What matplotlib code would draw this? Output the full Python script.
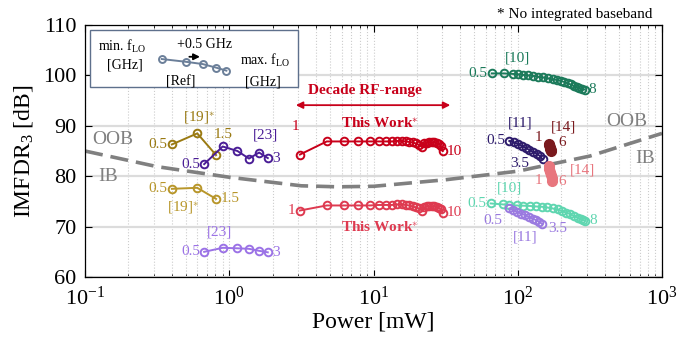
import matplotlib
matplotlib.use('Agg')
import matplotlib.pyplot as plt
from matplotlib.patches import Rectangle
from matplotlib.ticker import LogLocator, NullFormatter

plt.rcParams['font.family'] = 'serif'
plt.rcParams['font.serif'] = ['Liberation Serif', 'DejaVu Serif']
plt.rcParams['mathtext.fontset'] = 'custom'
plt.rcParams['mathtext.rm'] = 'Liberation Serif'
plt.rcParams['mathtext.it'] = 'Liberation Serif:italic'
plt.rcParams['mathtext.bf'] = 'Liberation Serif:bold'

#### data (power in mW, IMFDR3 in dB)
ref19_p = [0.40, 0.60, 0.81]
ref19_oob = [86.3, 88.5, 84.2]
ref19_ib = [77.5, 77.7, 75.5]

ref23_p = [0.67, 0.90, 1.14, 1.37, 1.61, 1.85]
ref23_oob = [82.4, 85.9, 85.0, 83.5, 84.7, 83.6]
ref23_ib = [65.0, 65.8, 65.7, 65.6, 65.2, 64.9]

tw_p = [3.09, 4.74, 6.25, 7.77, 9.46, 10.9, 12.2, 13.5, 14.6, 15.7, 16.7, 17.7,
        18.7, 19.6, 20.7, 21.6, 22.5, 23.4, 24.3, 25.3, 26.3, 27.4, 28.5, 29.2, 30.2]
tw_oob = [84.3, 86.9, 86.9, 86.9, 86.9, 86.9, 86.9, 86.9, 87.0, 87.0, 86.9, 86.8,
          86.7, 86.5, 86.2, 85.8, 86.5, 86.6, 86.7, 86.7, 86.7, 86.6, 86.4, 86.0, 85.0]
tw_ib = [73.2, 74.2, 74.2, 74.2, 74.2, 74.3, 74.3, 74.3, 74.4, 74.4, 74.3, 74.2,
         74.0, 73.8, 73.6, 73.2, 73.8, 74.0, 74.0, 74.0, 74.0, 73.9, 73.7, 73.4, 72.8]

ref10_p_oob = [66.0, 80.3, 93.1, 100.9, 109.3, 118.4, 128.2, 138.9, 150.4, 162.9, 174.7,
               186.2, 198.5, 210.2, 222.0, 232.9, 244.3, 256.3, 267.1, 278.9, 291.2]
ref10_oob = [100.4, 100.4, 100.3, 100.2, 100.1, 100.0, 99.9, 99.7, 99.6, 99.4, 99.2,
             99.1, 98.9, 98.7, 98.4, 98.2, 97.9, 97.7, 97.5, 97.3, 97.2]
ref10_p_ib = [64.9, 79.4, 87.4, 98.3, 109.3, 121.6, 133.8, 146.6, 160.3, 174.7, 189.2,
              201.7, 216.1, 230.2, 245.5, 260.4, 274.5, 284.7, 294.0]
ref10_ib = [74.6, 74.4, 74.3, 74.2, 74.15, 74.1, 74.0, 73.95, 73.8, 73.6, 73.4,
            73.1, 72.8, 72.5, 72.1, 71.8, 71.5, 71.3, 71.2]

ref11_p_oob = [87.4, 94.6, 101.0, 107.0, 113.5, 120.3, 127.5, 135.2, 142.5, 148.6]
ref11_oob = [87.0, 86.7, 86.4, 86.0, 85.65, 85.2, 84.85, 84.5, 84.0, 83.35]
ref11_p_ib = [87.4, 93.1, 99.3, 105.3, 112.3, 119.7, 126.9, 133.8, 140.4, 148.0]
ref11_ib = [73.6, 73.3, 72.9, 72.6, 72.3, 71.9, 71.6, 71.3, 71.0, 70.5]

ref14_p_oob = [164, 165.5, 167, 168.5, 170, 171]
ref14_oob = [86.4, 86.1, 85.8, 85.5, 85.2, 85.0]
ref14_p_ib = [164, 166, 168, 170, 172, 174]
ref14_ib = [82.0, 81.4, 80.8, 80.2, 79.6, 79.0]

bound_p = [0.1, 0.316, 1, 3.16, 5.6, 10, 31.6, 100, 316, 1000]
bound_v = [85.0, 81.9, 79.8, 78.1, 77.9, 78.0, 79.3, 81.0, 84.0, 88.5]

# colors
c19a, c19b = '#9A7A12', '#B8962A'
c23a, c23b = '#4A1D96', '#9B72E6'
ctwa, ctwb = '#C8001A', '#DE3A50'
c10a, c10b = '#1B7A5A', '#5FD6B0'
c11a, c11b = '#2D1B6B', '#9A7AE0'
c14a, c14b = '#7A1A1E', '#E8767E'

fig = plt.figure(figsize=(6.89, 3.45), dpi=100)
ax = fig.add_axes([0.1234, 0.197, 0.8374, 0.7305])
ax.set_xscale('log')
ax.set_xlim(0.1, 1000)
ax.set_ylim(60, 110)
ax.set_yticks([60, 70, 80, 90, 100, 110])
ax.xaxis.set_minor_locator(LogLocator(base=10, subs=range(2, 10), numticks=20))
ax.xaxis.set_minor_formatter(NullFormatter())
ax.tick_params(which='both', direction='in', top=True, right=True, labelsize=16)
ax.tick_params(which='major', length=5, width=0.8)
ax.tick_params(which='minor', length=2.5, width=0.6)
ax.tick_params(axis='x', pad=7)
ax.tick_params(axis='y', pad=6)
ax.grid(True, which='both', axis='x', linestyle=':', color='#CCCCCC', lw=0.8)
ax.grid(True, which='major', axis='y', linestyle='-', color='#DCDCDC', lw=1.6)
ax.set_axisbelow(True)
for s in ax.spines.values():
    s.set_linewidth(0.9)

ax.set_xlabel('Power [mW]', fontsize=17, labelpad=1)
ax.set_ylabel(r'IMFDR$_3$ [dB]', fontsize=17, labelpad=6)

# OOB / IB boundary
ax.plot(bound_p, bound_v, color='#808080', lw=2.6, dashes=(5, 2.2), zorder=2)
ax.text(0.156, 87.2, 'OOB', color='#808080', fontsize=14, ha='center', va='center')
ax.text(0.145, 80.0, 'IB', color='#808080', fontsize=14, ha='center', va='center')
ax.text(571, 90.8, 'OOB', color='#808080', fontsize=14, ha='center', va='center')
ax.text(762, 83.6, 'IB', color='#808080', fontsize=14, ha='center', va='center')

mk = dict(marker='o', mfc='none', ms=5.5, mew=1.4, lw=1.4, zorder=4)


def series(p, v, c, lo, hi):
    ax.plot(p, v, color=c, mec=c, **mk)
    ax.annotate(lo, (p[0], v[0]), xytext=(-3, 0), textcoords='offset points',
                ha='right', va='center', color=c, fontsize=11)
    ax.annotate(hi, (p[-1], v[-1]), xytext=(3, 0), textcoords='offset points',
                ha='left', va='center', color=c, fontsize=11)


def lab(x, y, t, c, **kw):
    ax.text(x, y, t, color=c, fontsize=11, ha='center', va='center', **kw)


# [19]
ax.plot(ref19_p, ref19_oob, color=c19a, mec=c19a, **mk)
ax.annotate('0.5', (ref19_p[0], ref19_oob[0]), xytext=(-3, 0), textcoords='offset points',
            ha='right', va='center', color=c19a, fontsize=11)
lab(0.905, 88.2, '1.5', c19a)
lab(0.62, 91.7, r'[19]$^{\ast}$', c19a)
series(ref19_p, ref19_ib, c19b, '0.5', '1.5')
lab(0.478, 73.9, r'[19]$^{\ast}$', c19b)

# [23]
series(ref23_p, ref23_oob, c23a, '0.5', '3')
lab(1.77, 88.2, '[23]', c23a)
series(ref23_p, ref23_ib, c23b, '0.5', '3')
lab(0.85, 68.9, '[23]', c23b)

# This work
ax.plot(tw_p, tw_oob, color=ctwa, mec=ctwa, **mk)
ax.annotate('10', (tw_p[-1], tw_oob[-1]), xytext=(3, 0), textcoords='offset points',
            ha='left', va='center', color=ctwa, fontsize=11)
lab(2.86, 89.8, '1', ctwa)
lab(11.1, 90.6, r'This Work$^{\ast}$', ctwa, fontweight='bold')
series(tw_p, tw_ib, ctwb, '1', '10')
lab(11.1, 69.9, r'This Work$^{\ast}$', ctwb, fontweight='bold')

lab(8.73, 97.1, 'Decade RF-range', ctwa, fontweight='bold')
ax.annotate('', xy=(2.77, 94.1), xytext=(35.6, 94.1),
            arrowprops=dict(arrowstyle='<|-|>', color=ctwa, lw=1.3, mutation_scale=10))

# [10]
series(ref10_p_oob, ref10_oob, c10a, '0.5', '8')
lab(100.4, 103.5, '[10]', c10a)
series(ref10_p_ib, ref10_ib, c10b, '0.5', '8')
lab(88.3, 77.7, '[10]', c10b)

# [11]
ax.plot(ref11_p_oob, ref11_oob, color=c11a, mec=c11a, **mk)
ax.annotate('0.5', (ref11_p_oob[0], ref11_oob[0]), xytext=(-3, 0), textcoords='offset points',
            ha='right', va='center', color=c11a, fontsize=11)
lab(103.7, 82.6, '3.5', c11a)
lab(103.7, 90.6, '[11]', c11a)
ax.plot(ref11_p_ib, ref11_ib, color=c11b, mec=c11b, **mk)
lab(67.3, 71.3, '0.5', c11b)
lab(190, 69.7, '3.5', c11b)
lab(112, 67.9, '[11]', c11b)

# [14]
ax.plot(ref14_p_oob, ref14_oob, color=c14a, marker='o', ms=7, lw=5, solid_capstyle='round', zorder=4)
lab(140, 87.6, '1', c14a)
lab(203, 86.6, '6', c14a)
lab(206, 89.8, '[14]', c14a)
ax.plot(ref14_p_ib, ref14_ib, color=c14b, marker='o', ms=7, lw=5, solid_capstyle='round', zorder=4)
lab(140, 79.2, '1', c14b)
lab(203, 79.0, '6', c14b)
lab(279, 81.2, '[14]', c14b)

# legend box (axes fraction)
ax.add_patch(Rectangle((0.0087, 0.754), 0.360, 0.226, transform=ax.transAxes,
                       facecolor='white', edgecolor='#5E708C', lw=1.0, zorder=6))
leg_x = [0.133, 0.175, 0.204, 0.227, 0.245]
leg_y = [0.865, 0.854, 0.845, 0.831, 0.819]
ax.plot(leg_x, leg_y, transform=ax.transAxes, color='#6B7F99', marker='o', mfc='none',
        mec='#6B7F99', ms=5, mew=1.4, lw=1.4, zorder=7)
tk = dict(transform=ax.transAxes, fontsize=10, ha='center', va='center', zorder=7)
ax.text(0.064, 0.913, r'min. f$_{\rm LO}$', **tk)
ax.text(0.069, 0.841, '[GHz]', **tk)
ax.text(0.208, 0.921, '+0.5 GHz', **tk)
ax.text(0.165, 0.774, '[Ref]', **tk)
ax.text(0.312, 0.861, r'max. f$_{\rm LO}$', **tk)
ax.text(0.308, 0.774, '[GHz]', **tk)
ax.annotate('', xy=(0.204, 0.874), xytext=(0.176, 0.874), xycoords='axes fraction',
            arrowprops=dict(arrowstyle='-|>', color='black', lw=1.3, mutation_scale=9), zorder=8)

fig.text(0.947, 0.957, '* No integrated baseband', fontsize=11, ha='right', va='center')

fig.savefig('out.png', dpi=100)
